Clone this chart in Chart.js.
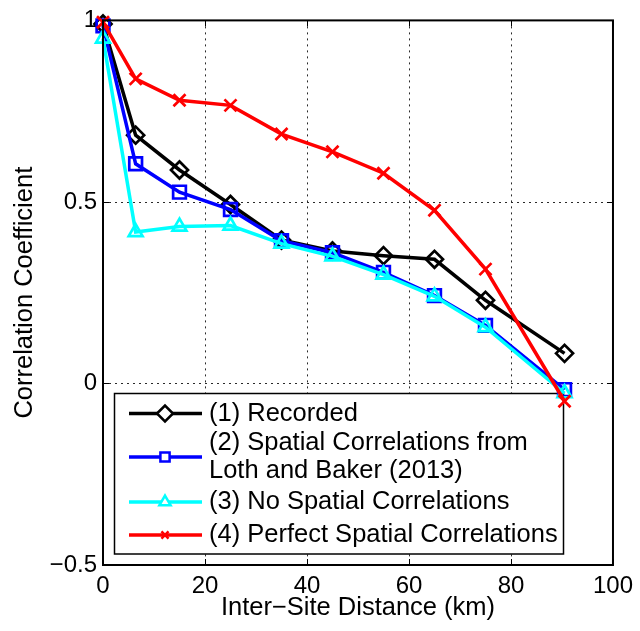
<!DOCTYPE html>
<html>
<head>
<meta charset="utf-8">
<script src="https://cdn.jsdelivr.net/npm/chart.js@4/dist/chart.umd.min.js"></script>
<style>
html,body{margin:0;padding:0;background:#fff;}
#wrap{width:640px;height:631px;position:relative;}
</style>
</head>
<body>
<div id="wrap"><canvas id="c" width="640" height="631"></canvas></div>
<script>
// ---- data ----
const distances = [0, 6.4, 15, 25, 35, 45, 55, 65, 75, 90.5];
const recorded  = [0.99, 0.684, 0.588, 0.493, 0.395, 0.365, 0.352, 0.342, 0.229, 0.083];
const lothBaker = [0.985, 0.605, 0.527, 0.479, 0.393, 0.36, 0.306, 0.242, 0.160, -0.017];
const noSpatial = [0.95, 0.417, 0.432, 0.435, 0.385, 0.35, 0.30, 0.24, 0.155, -0.027];
const perfect   = [0.995, 0.839, 0.78, 0.766, 0.687, 0.638, 0.579, 0.477, 0.315, -0.049];
const seriesLabels = [
  ["(1) Recorded"],
  ["(2) Spatial Correlations from", "Loth and Baker (2013)"],
  ["(3) No Spatial Correlations"],
  ["(4) Perfect Spatial Correlations"]
];
const xTicks = [0, 20, 40, 60, 80, 100];
const yTicks = [-0.5, 0, 0.5, 1];
const xTitle = "Inter\u2212Site Distance (km)";
const yTitle = "Correlation Coefficient";

const FONT = "'Liberation Sans', Arial, Helvetica, sans-serif";

function pts(ys){ return distances.map((x,i)=>({x:x, y:ys[i]})); }

const styles = [
  {color:'#000000', pointStyle:'rectRot', radius:8.5},
  {color:'#0000ff', pointStyle:'rect', radius:9},
  {color:'#00ffff', pointStyle:'triangle', radius:8},
  {color:'#ff0000', pointStyle:'crossRot', radius:8.5}
];
const seriesData = [recorded, lothBaker, noSpatial, perfect];

const datasets = seriesData.map((d,i)=>({
  label: seriesLabels[i].join(' '),
  data: pts(d),
  borderColor: styles[i].color,
  backgroundColor: 'rgba(0,0,0,0)',
  pointBorderColor: styles[i].color,
  pointBackgroundColor: 'rgba(0,0,0,0)',
  pointStyle: styles[i].pointStyle,
  pointRadius: styles[i].radius,
  pointHoverRadius: styles[i].radius,
  pointBorderWidth: 2.7,
  borderWidth: 3.5,
  tension: 0,
  order: 10 - i,
  clip: false
}));

function drawMarker(ctx, style, radius, x, y){
  const opts = {pointStyle: style, radius: radius, rotation: 0, borderWidth: 2.5};
  if (Chart.helpers && Chart.helpers.drawPoint) {
    Chart.helpers.drawPoint(ctx, opts, x, y);
  }
}

const boxPlugin = {
  id: 'matlabBox',
  beforeDatasetsDraw(chart){
    const {ctx, chartArea:a, scales:{x, y}} = chart;
    ctx.save();
    ctx.strokeStyle = '#2a2a2a';
    ctx.lineWidth = 1;
    ctx.setLineDash([2,4]);
    xTicks.forEach(v=>{
      if (v===0 || v===100) return;
      const px = Math.round(x.getPixelForValue(v))+0.5;
      ctx.beginPath(); ctx.moveTo(px, a.top); ctx.lineTo(px, a.bottom); ctx.stroke();
    });
    yTicks.forEach(v=>{
      if (v===-0.5 || v===1) return;
      const py = Math.round(y.getPixelForValue(v))+0.5;
      ctx.beginPath(); ctx.moveTo(a.left, py); ctx.lineTo(a.right, py); ctx.stroke();
    });
    ctx.setLineDash([]);

    // legend box (drawn under the data, as in the reference)
    const L = 114.5, T = 393.5, R = 563.5, B = 554;
    ctx.fillStyle = '#fff';
    ctx.fillRect(L, T, R-L, B-T);
    ctx.strokeStyle = '#000';
    ctx.lineWidth = 1.5;
    ctx.strokeRect(L, T, R-L, B-T);

    const rows = [413.5, 457, 502, 535];
    const lineX0 = 129, lineX1 = 202, mX = 165, textX = 209, lineGap = 28;
    ctx.font = '25.5px ' + FONT;
    ctx.textBaseline = 'middle';
    ctx.textAlign = 'left';
    chart.data.datasets.forEach((ds,i)=>{
      const yy = rows[i];
      ctx.strokeStyle = ds.borderColor;
      ctx.lineWidth = 3.5;
      ctx.beginPath(); ctx.moveTo(lineX0, yy); ctx.lineTo(lineX1, yy); ctx.stroke();
      ctx.fillStyle = '#fff';
      ctx.strokeStyle = ds.pointBorderColor;
      ctx.lineWidth = 2.5;
      const r = i===1 ? 6.5 : (i===3 ? 5 : (i===2 ? 6.5 : 8));
      drawMarker(ctx, ds.pointStyle, r, mX, yy);
      const lines = seriesLabels[i];
      ctx.fillStyle = '#000';
      const n = lines.length;
      lines.forEach((t,k)=>{
        const ty = yy + (k - (n-1)/2) * lineGap;
        ctx.fillText(t, textX, ty);
      });
    });
    ctx.restore();
  },
  afterDraw(chart){
    const {ctx, chartArea:a, scales:{x, y}} = chart;
    ctx.save();
    ctx.strokeStyle = '#000';
    ctx.setLineDash([]);
    ctx.lineWidth = 1;
    const tl = 6;
    xTicks.forEach(v=>{
      const px = Math.round(x.getPixelForValue(v))+0.5;
      ctx.beginPath();
      ctx.moveTo(px, a.bottom); ctx.lineTo(px, a.bottom - tl);
      ctx.moveTo(px, a.top); ctx.lineTo(px, a.top + tl);
      ctx.stroke();
    });
    yTicks.forEach(v=>{
      const py = Math.round(y.getPixelForValue(v))+0.5;
      ctx.beginPath();
      ctx.moveTo(a.left, py); ctx.lineTo(a.left + tl, py);
      ctx.moveTo(a.right, py); ctx.lineTo(a.right - tl, py);
      ctx.stroke();
    });
    ctx.lineWidth = 2;
    ctx.strokeRect(a.left, a.top, a.right - a.left, a.bottom - a.top);
    ctx.restore();
  }
};

new Chart(document.getElementById('c'), {
  type: 'line',
  data: { datasets: datasets },
  options: {
    responsive: false,
    animation: false,
    events: [],
    layout: { padding: { left: 9.5, right: 20, top: 16, bottom: 8 } },
    plugins: {
      legend: { display: false },
      tooltip: { enabled: false }
    },
    scales: {
      x: {
        type: 'linear',
        min: 0, max: 100,
        afterBuildTicks(s){ s.ticks = xTicks.map(v=>({value:v})); },
        afterFit(s){ s.height = 58; },
        grid: { display: false, drawTicks: false },
        border: { display: false },
        ticks: {
          padding: 7,
          color: '#000',
          maxRotation: 0,
          autoSkip: false,
          font: { family: FONT, size: 24 },
          callback: v => String(v)
        },
        title: {
          display: true,
          text: xTitle,
          color: '#000',
          padding: 0,
          font: { family: FONT, size: 25.5 }
        }
      },
      y: {
        type: 'linear',
        min: -0.5, max: 1,
        afterBuildTicks(s){ s.ticks = yTicks.map(v=>({value:v})); },
        afterFit(s){ s.width = 93.5; },
        grid: { display: false, drawTicks: false },
        border: { display: false },
        ticks: {
          padding: 6,
          color: '#000',
          autoSkip: false,
          font: { family: FONT, size: 24 },
          callback: v => v < 0 ? '\u2212' + String(Math.abs(v)) : String(v)
        },
        title: {
          display: true,
          text: yTitle,
          color: '#000',
          padding: 0,
          font: { family: FONT, size: 25.5 }
        }
      }
    }
  },
  plugins: [boxPlugin]
});
</script>
</body>
</html>
